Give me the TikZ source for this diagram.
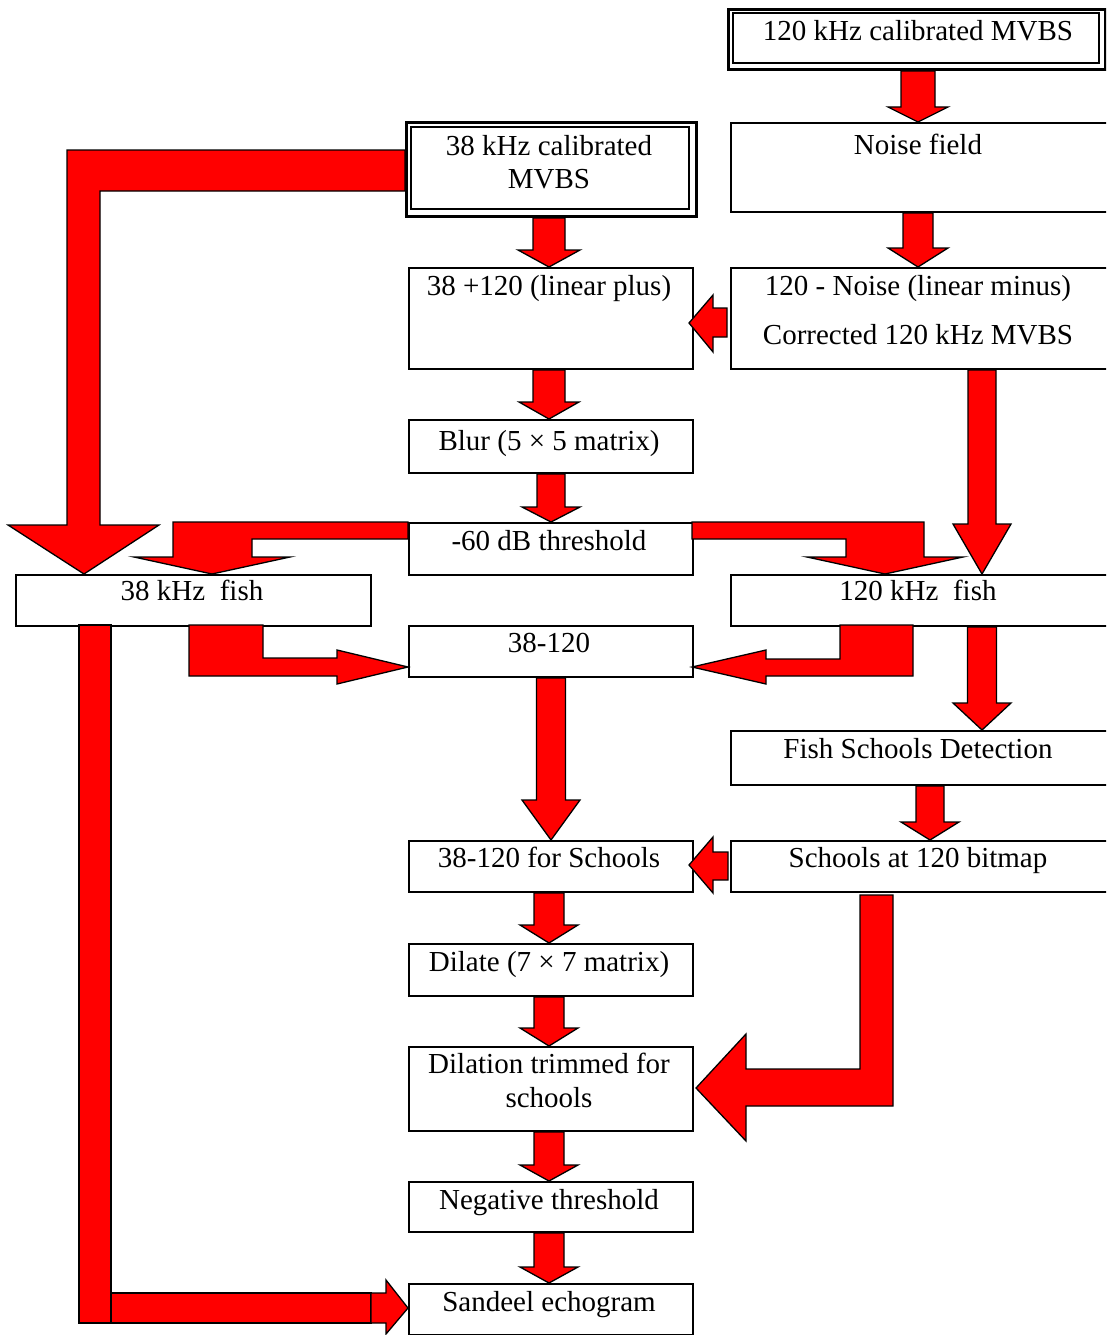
\documentclass[tikz,border=0pt]{standalone}
\usepackage{fontspec}
\setmainfont{Liberation Serif}
\usetikzlibrary{calc}
\tikzset{
  box/.style={draw, line width=2pt, rectangle, inner sep=0pt, anchor=north west},
  dbox/.style={draw, line width=3pt, rectangle, inner sep=0pt, anchor=north west},
  blk/.style={fill=red, draw=black, line width=1.3pt, line join=miter},
  txt/.style={font=\fontsize{29}{34}\selectfont, anchor=base, inner sep=0pt},
}
% vertical block arrow: from node, to node, centre x, shaft half, head half, head length
\newcommand\varrow[6]{%
  \path[blk] let \p1=(#1.south), \p2=(#2.north) in
    (#3pt-#4pt,\y1) -- (#3pt+#4pt,\y1) -- (#3pt+#4pt,\y2+#6pt) -- (#3pt+#5pt,\y2+#6pt)
    -- (#3pt,\y2) -- (#3pt-#5pt,\y2+#6pt) -- (#3pt-#4pt,\y2+#6pt) -- cycle;}
\begin{document}
\begin{tikzpicture}[x=1pt,y=-1pt]
\path[use as bounding box] (0,0) rectangle (1106,1335);
\clip (0,0) rectangle (1106,1335);

% ---- boxes
\node[dbox, minimum width=377, minimum height=60] (c120) at (727,8) {};
\draw[line width=1.5pt] (733,13) rectangle (1099,63);
\node[box, minimum width=378, minimum height=89] (noise) at (730,122) {};
\node[dbox, minimum width=290, minimum height=94] (c38) at (405,121) {};
\draw[line width=1.5pt] (411,127) rectangle (689,209);
\node[box, minimum width=284, minimum height=101] (plus) at (408,267) {};
\node[box, minimum width=378, minimum height=101] (minus) at (730,267) {};
\node[box, minimum width=284, minimum height=53] (blur) at (408,419) {};
\node[box, minimum width=284, minimum height=52] (thr) at (408,522) {};
\node[box, minimum width=355, minimum height=51] (f38) at (15,574) {};
\node[box, minimum width=378, minimum height=51] (f120) at (730,574) {};
\node[box, minimum width=284, minimum height=51] (d38120) at (408,625) {};
\node[box, minimum width=378, minimum height=54] (fsd) at (730,730) {};
\node[box, minimum width=284, minimum height=51] (s38) at (408,840) {};
\node[box, minimum width=378, minimum height=51] (sbit) at (730,840) {};
\node[box, minimum width=284, minimum height=52] (dil) at (408,943) {};
\node[box, minimum width=284, minimum height=84] (trim) at (408,1046) {};
\node[box, minimum width=284, minimum height=50] (neg) at (408,1181) {};
\node[box, minimum width=284, minimum height=51] (sand) at (408,1283) {};

% ---- straight vertical block arrows
\varrow{c120}{noise}{918}{17}{30}{15}
\varrow{noise}{minus}{918}{15}{30}{19}
\varrow{c38}{plus}{549}{16}{31}{17}
\varrow{plus}{blur}{549}{16}{30}{17}
\varrow{blur}{thr}{551}{14}{29}{15}
\varrow{minus}{f120}{982}{14}{29}{50}
\varrow{f120}{fsd}{982}{14.5}{29}{27}
\varrow{d38120}{s38}{551}{14.5}{29}{40}
\varrow{fsd}{sbit}{930}{14}{29}{18}
\varrow{s38}{dil}{549}{15}{29}{18}
\varrow{dil}{trim}{549}{15}{29}{18}
\varrow{trim}{neg}{549}{15}{29}{16}
\varrow{neg}{sand}{549}{15}{29}{16}

% ---- horizontal (leftward) block arrows
\path[blk] (727,308) -- (713,308) -- (713,295) -- (689,323) -- (713,352) -- (713,337) -- (727,337) -- cycle;
\path[blk] (728,852) -- (713,852) -- (713,837) -- (689,865) -- (713,893) -- (713,880) -- (728,880) -- cycle;

% ---- bent block arrows
% 38 kHz calibrated MVBS -> 38 kHz fish
\path[blk] (405,150) -- (67,150) -- (67,525) -- (8,525) -- (84,574) -- (159,525) -- (100,525) -- (100,191) -- (405,191) -- cycle;
% -60 dB threshold -> 38 kHz fish
\path[blk] (408,522) -- (173,522) -- (173,557) -- (134,557) -- (212,574) -- (290,557) -- (252,557) -- (252,539) -- (408,539) -- cycle;
% -60 dB threshold -> 120 kHz fish
\path[blk] (692,522) -- (924,522) -- (924,557) -- (963,557) -- (885,574) -- (807,557) -- (846,557) -- (846,539) -- (692,539) -- cycle;
% 38 kHz fish -> 38-120
\path[blk] (189,625) -- (263,625) -- (263,658) -- (337,658) -- (337,650) -- (408,667) -- (337,684) -- (337,676) -- (189,676) -- cycle;
% 120 kHz fish -> 38-120
\path[blk] (913,625) -- (840,625) -- (840,659) -- (766,659) -- (766,650) -- (692,667) -- (766,684) -- (766,676) -- (913,676) -- cycle;
% Schools at 120 bitmap -> Dilation trimmed for schools
\path[blk] (860,895) -- (893,895) -- (893,1106) -- (746,1106) -- (746,1141) -- (696,1088) -- (746,1034) -- (746,1069) -- (860,1069) -- cycle;
% 38 kHz fish -> Sandeel echogram
\path[blk] (79,625) rectangle (111,1323);
\path[blk] (111,1293) rectangle (371,1323);
\path[blk] (371,1293) -- (386,1293) -- (386,1280) -- (408,1308) -- (386,1334) -- (386,1323) -- (371,1323) -- cycle;

% ---- texts
\node[txt] (c120-t) at (918,41) {120 kHz calibrated MVBS};
\node[txt] (noise-t) at (918,154) {Noise field};
\node[txt] (c38-t1) at (549,155) {38 kHz calibrated};
\node[txt] (c38-t2) at (549,188) {MVBS};
\node[txt] (plus-t) at (549,295) {38 +120 (linear plus)};
\node[txt] (minus-t1) at (918,295) {120 - Noise (linear minus)};
\node[txt] (minus-t2) at (918,344) {Corrected 120 kHz MVBS};
\node[txt] (blur-t) at (549,450) {Blur (5 × 5 matrix)};
\node[txt] (thr-t) at (549,550) {-60 dB threshold};
\node[txt] (f38-t) at (192,600) {38 kHz\ \ fish};
\node[txt] (f120-t) at (918,600) {120 kHz\ \ fish};
\node[txt] (d38120-t) at (549,652) {38-120};
\node[txt] (fsd-t) at (918,758) {Fish Schools Detection};
\node[txt] (s38-t) at (549,867) {38-120 for Schools};
\node[txt] (sbit-t) at (918,867) {Schools at 120 bitmap};
\node[txt] (dil-t) at (549,971) {Dilate (7 × 7 matrix)};
\node[txt] (trim-t1) at (549,1073) {Dilation trimmed for};
\node[txt] (trim-t2) at (549,1107) {schools};
\node[txt] (neg-t) at (549,1209) {Negative threshold};
\node[txt] (sand-t) at (549,1311) {Sandeel echogram};
\end{tikzpicture}
\end{document}
